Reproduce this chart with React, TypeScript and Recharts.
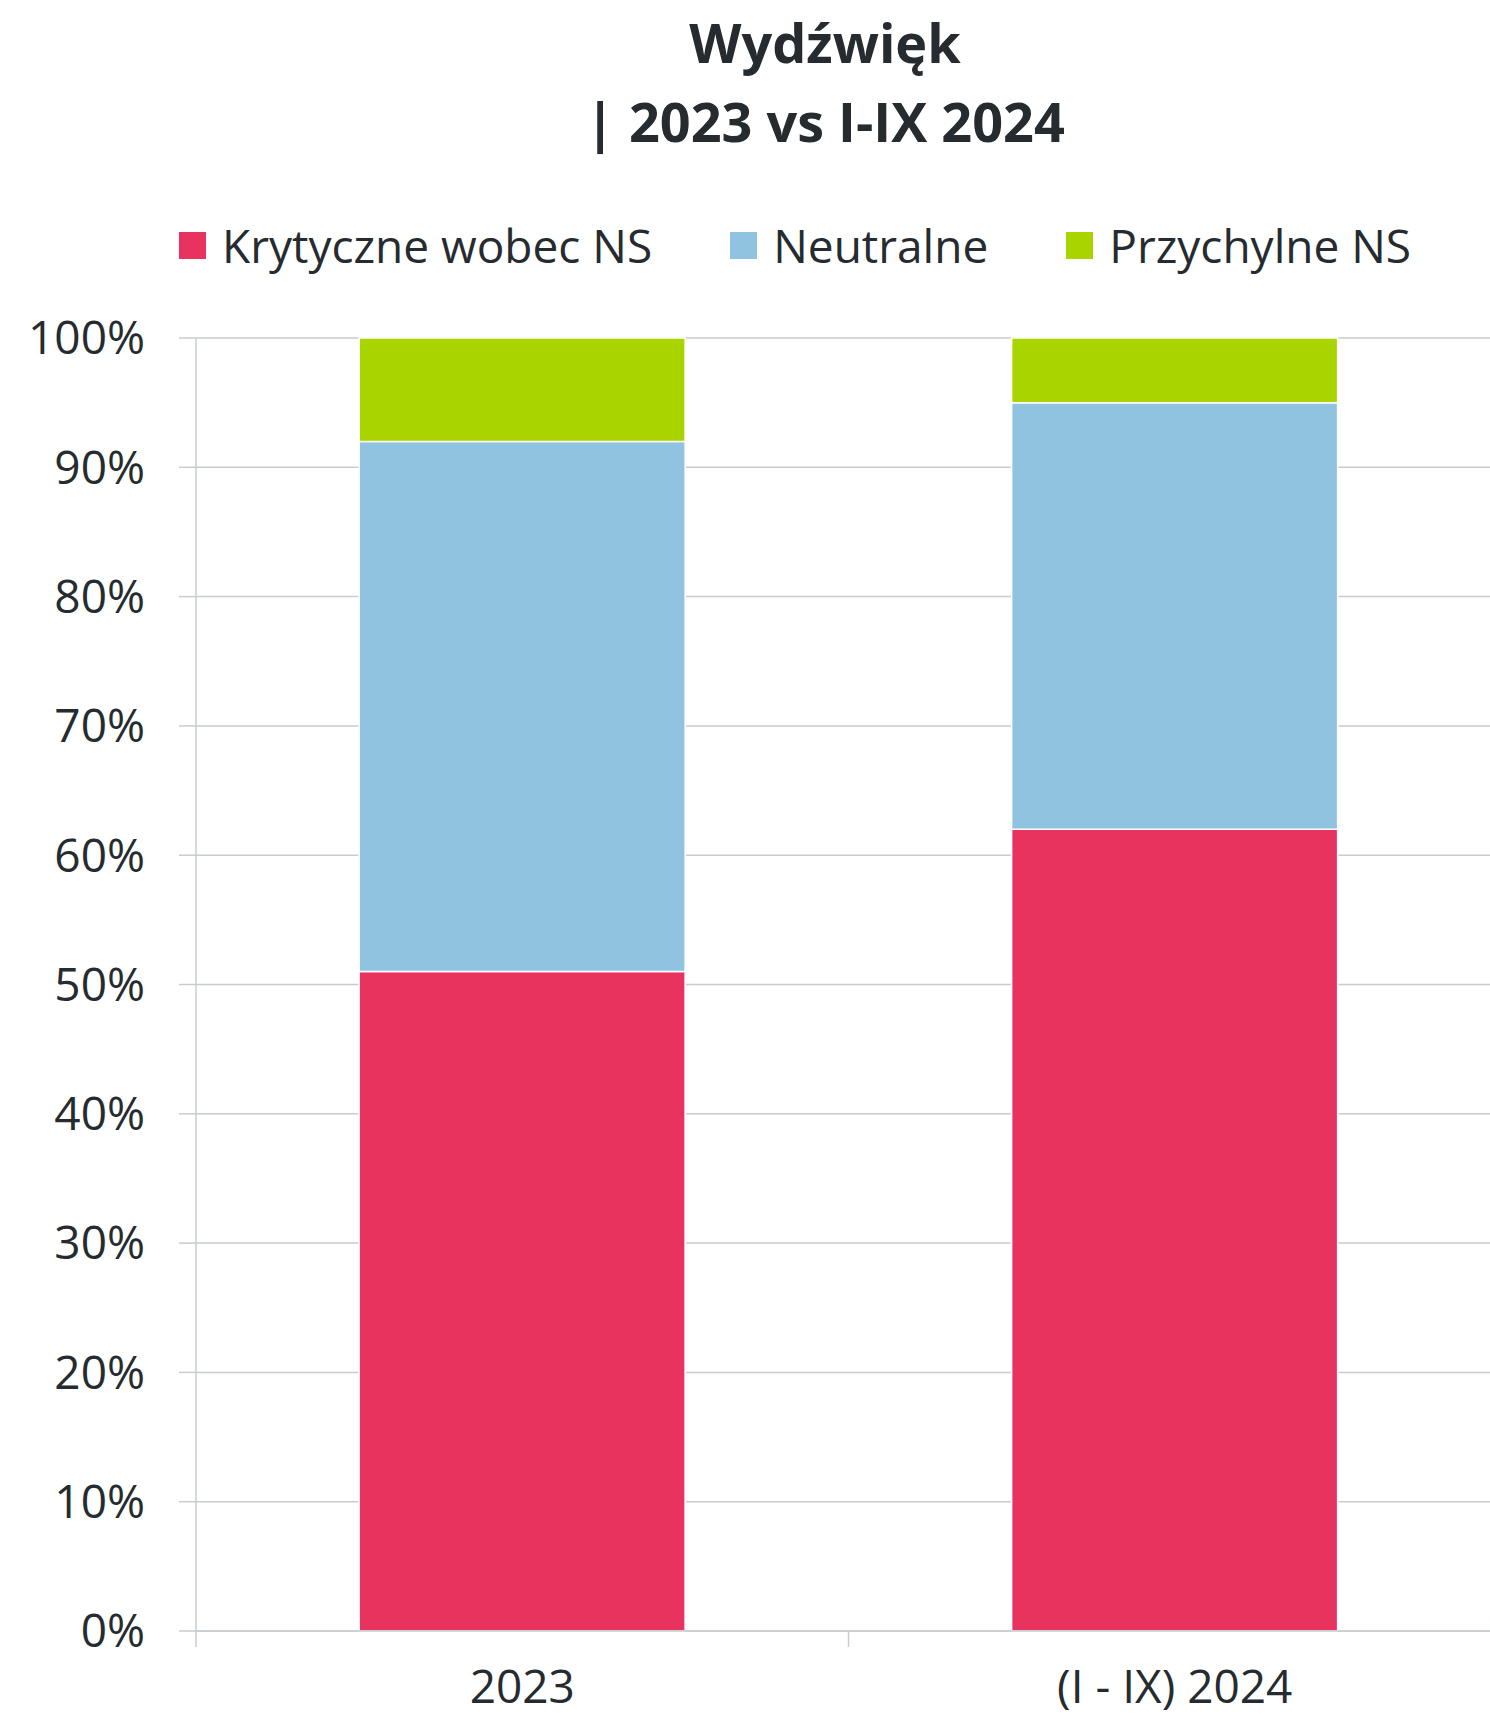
import { BarChart, Bar, XAxis, YAxis, CartesianGrid, Legend } from "recharts";

const categories = ["2023", "(I - IX) 2024"];
const krytyczne = [51, 62];
const neutralne = [41, 33];
const przychylne = [8, 5];
const yTicks = [0, 10, 20, 30, 40, 50, 60, 70, 80, 90, 100];

const SERIES = [
  { key: "krytyczne", name: "Krytyczne wobec NS", color: "#E8335F" },
  { key: "neutralne", name: "Neutralne", color: "#8FC3E0" },
  { key: "przychylne", name: "Przychylne NS", color: "#AAD400" },
];

const FONT = "'Open Sans', sans-serif";
const TEXT = "#262b2f";
const GRID = "#c8ccd0";

const data = categories.map((name, i) => ({
  name,
  krytyczne: krytyczne[i],
  neutralne: neutralne[i],
  przychylne: przychylne[i],
}));

const CategoryTick = (props: any) => {
  const { x, y, payload } = props;
  const half = payload?.offset ?? 326;
  return (
    <g>
      <line x1={x - half} x2={x - half} y1={y} y2={y + 16} stroke={GRID} strokeWidth={1.5} />
      <text x={x} y={y + 72} textAnchor="middle" fill={TEXT} fontSize={46} fontFamily={FONT}>
        {payload.value}
      </text>
    </g>
  );
};

const LegendBox = () => (
  <div style={{ display: "flex", alignItems: "center", height: 60, fontFamily: FONT, fontSize: 46, color: TEXT }}>
    {SERIES.map((s, i) => (
      <div key={s.key} style={{ display: "flex", alignItems: "center", marginLeft: i === 0 ? 179 : 78 }}>
        <div style={{ width: 27, height: 27, background: s.color, marginRight: 16 }} />
        <span style={{ lineHeight: "60px" }}>{s.name}</span>
      </div>
    ))}
  </div>
);

export default function App() {
  return (
    <div style={{ position: "absolute", left: 0, top: 0, width: 1490, height: 1722, overflow: "hidden", background: "#fff" }}>
      <div
        style={{
          position: "absolute",
          left: 525,
          width: 600,
          top: 3,
          textAlign: "center",
          fontFamily: FONT,
          fontWeight: 700,
          fontSize: 54,
          lineHeight: "79px",
          color: TEXT,
        }}
      >
        Wydźwięk
        <br />| 2023 vs I-IX 2024
      </div>
      <BarChart
        width={1510}
        height={1722}
        data={data}
        margin={{ top: 338, right: 9, left: 0, bottom: 0 }}
        barCategoryGap="25%"
      >
        <CartesianGrid vertical={false} stroke={GRID} strokeWidth={1.5} />
        <XAxis
          dataKey="name"
          height={91}
          axisLine={{ stroke: GRID, strokeWidth: 1.5 }}
          tickLine={false}
          tickSize={0}
          tickMargin={0}
          tick={<CategoryTick />}
        />
        <YAxis
          width={196}
          domain={[0, 100]}
          ticks={yTicks}
          tickFormatter={(v: number) => `${v}%`}
          axisLine={{ stroke: GRID, strokeWidth: 1.5 }}
          tickLine={{ stroke: GRID, strokeWidth: 1.5 }}
          tickSize={17}
          tickMargin={34}
          tick={{ fill: TEXT, fontSize: 46, fontFamily: FONT }}
        />
        <Legend
          verticalAlign="middle"
          align="center"
          layout="horizontal"
          content={() => <LegendBox />}
          wrapperStyle={{ top: 215, left: 0, width: 1490 }}
        />
        {SERIES.map((s) => (
          <Bar
            key={s.key}
            dataKey={s.key}
            name={s.name}
            stackId="a"
            fill={s.color}
            stroke="#fff"
            strokeWidth={1.5}
            isAnimationActive={false}
          />
        ))}
      </BarChart>
    </div>
  );
}
